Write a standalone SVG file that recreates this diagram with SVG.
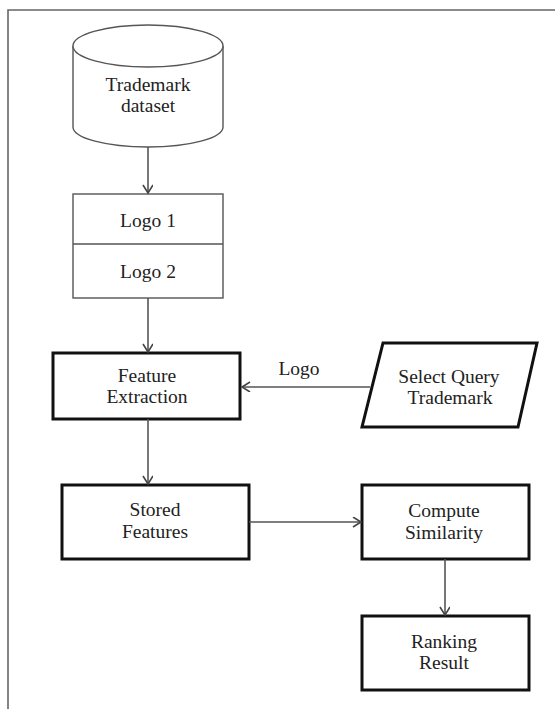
<svg xmlns="http://www.w3.org/2000/svg" width="555" height="709" viewBox="0 0 555 709">
<defs>
<style>
.t{font-family:"Liberation Serif","Times New Roman",serif;font-size:19.5px;fill:#222;text-anchor:middle}
.thin{fill:#fff;stroke:#555;stroke-width:1.4}
.thick{fill:#fff;stroke:#111;stroke-width:3}
.c{fill:none;stroke:#555;stroke-width:1.6}
</style>
<marker id="ah" markerWidth="12" markerHeight="12" refX="9" refY="5" orient="auto" markerUnits="userSpaceOnUse">
<path d="M1,0 L9,5 L1,10" fill="none" stroke="#444" stroke-width="1.6"/>
</marker>
</defs>
<rect width="555" height="709" fill="#fff"/>
<g id="frame">
<path d="M8,709 L8,10 L555,10" fill="none" stroke="#666" stroke-width="1.6"/>
</g>
<g id="dataset">
<path class="thin" d="M73,46 L73,127 A75,20 0 0 0 223,127 L223,46"/>
<ellipse class="thin" cx="148" cy="46" rx="75" ry="21"/>
<text class="t" x="148" y="91">Trademark</text>
<text class="t" x="148" y="112">dataset</text>
</g>
<g id="logos">
<rect class="thin" x="73" y="194" width="150" height="104"/>
<line class="thin" x1="73" y1="244" x2="223" y2="244"/>
<text class="t" x="148" y="227">Logo 1</text>
<text class="t" x="148" y="278">Logo 2</text>
</g>
<g id="feature-extraction">
<rect class="thick" x="53" y="353" width="187" height="66"/>
<text class="t" x="147" y="382">Feature</text>
<text class="t" x="147" y="403">Extraction</text>
</g>
<g id="select-query">
<polygon class="thick" points="383,343 537,343 518,427 362,427"/>
<text class="t" x="449" y="383">Select Query</text>
<text class="t" x="450" y="404">Trademark</text>
</g>
<g id="stored-features">
<rect class="thick" x="62" y="485" width="187" height="74"/>
<text class="t" x="155" y="516">Stored</text>
<text class="t" x="155" y="538">Features</text>
</g>
<g id="compute-similarity">
<rect class="thick" x="362" y="485" width="167" height="74"/>
<text class="t" x="444" y="517">Compute</text>
<text class="t" x="444" y="539">Similarity</text>
</g>
<g id="ranking-result">
<rect class="thick" x="362" y="616" width="167" height="74"/>
<text class="t" x="444" y="648">Ranking</text>
<text class="t" x="444" y="669">Result</text>
</g>
<g id="connectors">
<line class="c" x1="148" y1="147" x2="148" y2="193" marker-end="url(#ah)"/>
<line class="c" x1="148" y1="298" x2="148" y2="352" marker-end="url(#ah)"/>
<line class="c" x1="370" y1="387" x2="242" y2="387" marker-end="url(#ah)"/>
<text class="t" x="299" y="375">Logo</text>
<line class="c" x1="148" y1="419" x2="148" y2="484" marker-end="url(#ah)"/>
<line class="c" x1="249" y1="522" x2="361" y2="522" marker-end="url(#ah)"/>
<line class="c" x1="445" y1="559" x2="445" y2="615" marker-end="url(#ah)"/>
</g>
</svg>
